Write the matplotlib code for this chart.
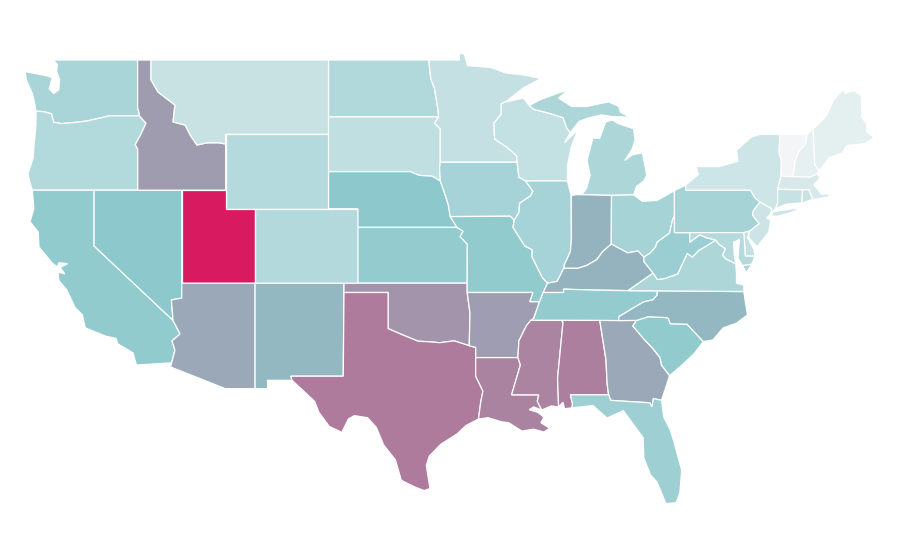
#!/usr/bin/env python3
"""Choropleth of the lower 48 states, drawn from hand-read outlines (lon, lat)."""

import matplotlib
matplotlib.use("Agg")
import matplotlib.pyplot as plt
from matplotlib.colors import LinearSegmentedColormap, Normalize

# ---------------------------------------------------------------------------
# Data
# ---------------------------------------------------------------------------

STATES = ["WA", "OR", "CA", "NV", "ID", "MT", "WY", "UT", "AZ", "CO", "NM", "ND",
          "SD", "NE", "KS", "OK", "TX", "MN", "IA", "MO", "AR", "LA", "WI", "IL",
          "MI", "IN", "OH", "KY", "TN", "MS", "AL", "GA", "FL", "SC", "NC", "VA",
          "WV", "PA", "NY", "VT", "NH", "ME", "MA", "CT", "RI", "NJ", "DE", "MD"]
VALUES = [21.6, 18.9, 28.3, 30.0, 48.0, 12.8, 18.0, 100.0, 43.0, 18.6, 36.5, 19.2,
          15.0, 30.0, 28.0, 51.0, 61.0, 13.7, 22.4, 28.3, 47.5, 58.0, 14.3, 22.4,
          20.7, 38.5, 23.0, 38.5, 28.0, 57.5, 59.5, 43.0, 25.3, 28.3, 36.5, 20.4,
          26.0, 22.7, 11.0, 0.3, 4.0, 4.4, 8.4, 12.5, 12.5, 11.6, 13.7, 18.0]

OUTLINES = {
    "WA": [[(-117.04, 49), (-122.76, 49), (-122.5, 48.75), (-122.55, 48.4), (-122.35, 47.95), (-122.4, 47.4),
            (-122.75, 47.2), (-123.05, 47.45), (-122.85, 48.05), (-123.2, 48.15), (-124.7, 48.38), (-124.6, 47.9),
            (-124.2, 47.2), (-124.05, 46.7), (-123.95, 46.25), (-123.4, 46.22), (-122.9, 46.1), (-122.75, 45.65),
            (-122.2, 45.58), (-121.2, 45.65), (-120.5, 45.72), (-119.3, 45.93), (-119.0, 46.0), (-116.92, 46.0),
            (-116.95, 46.2), (-117.04, 46.42)]],
    "OR": [[(-124.2, 42), (-124.4, 42.5), (-124.5, 42.9), (-124.15, 43.7), (-124.05, 44.7), (-123.95, 45.5),
            (-123.95, 46.25), (-123.4, 46.22), (-122.9, 46.1), (-122.75, 45.65), (-122.2, 45.58), (-121.2, 45.65),
            (-120.5, 45.72), (-119.3, 45.93), (-119.0, 46.0), (-116.92, 46.0), (-116.47, 45.6), (-116.85, 44.95),
            (-117.2, 44.45), (-117.03, 44.2), (-117.03, 42)]],
    "CA": [[(-124.2, 42), (-124.1, 41.0), (-124.36, 40.3), (-123.8, 39.75), (-123.75, 38.95), (-122.86, 38.09),
            (-122.5, 37.87), (-122.4, 38.1), (-121.8, 38.05), (-122.3, 37.85), (-122.0, 37.5), (-122.45, 37.6),
            (-122.4, 37.15), (-121.85, 36.63), (-121.3, 35.7), (-120.8, 35.3), (-120.6, 34.6), (-119.2, 34.15),
            (-118.5, 34.03), (-118.4, 33.75), (-117.35, 33.25), (-117.12, 32.6), (-114.72, 32.72), (-114.5, 33.4),
            (-114.7, 33.9), (-114.15, 34.27), (-114.63, 35.0), (-120, 39), (-120, 42)]],
    "NV": [[(-120, 42), (-114.04, 42), (-114.04, 36.2), (-114.74, 36.1), (-114.63, 35.0), (-120, 39)]],
    "ID": [[(-117.04, 49), (-116.13, 49), (-116.13, 47.93), (-115.65, 47.28), (-114.5, 46.58), (-114.63, 45.67),
            (-113.8, 45.5), (-113.45, 44.95), (-113.0, 44.43), (-112.3, 44.55), (-111.5, 44.55),
            (-111.05, 44.48), (-111.05, 42), (-117.03, 42), (-117.03, 44.2), (-117.2, 44.45), (-116.85, 44.95),
            (-116.47, 45.6), (-116.92, 46.0), (-116.95, 46.2), (-117.04, 46.42)]],
    "MT": [[(-116.13, 49), (-104.05, 49), (-104.05, 45), (-111.05, 45), (-111.05, 44.48), (-111.5, 44.55),
            (-112.3, 44.55), (-113.0, 44.43), (-113.45, 44.95), (-113.8, 45.5), (-114.63, 45.67), (-114.5, 46.58),
            (-115.65, 47.28), (-116.13, 47.93)]],
    "WY": [[(-111.05, 45), (-104.05, 45), (-104.05, 41), (-111.05, 41)]],
    "UT": [[(-114.04, 42), (-111.05, 42), (-111.05, 41), (-109.05, 41), (-109.05, 37), (-114.04, 37)]],
    "AZ": [[(-114.04, 37), (-109.05, 37), (-109.05, 31.33), (-111.07, 31.33), (-114.8, 32.5), (-114.72, 32.72),
            (-114.5, 33.4), (-114.7, 33.9), (-114.15, 34.27), (-114.63, 35.0), (-114.74, 36.1), (-114.04, 36.2)]],
    "CO": [[(-109.05, 41), (-102.05, 41), (-102.05, 37), (-109.05, 37)]],
    "NM": [[(-109.05, 37), (-103.0, 37), (-103.05, 32), (-106.62, 32), (-106.53, 31.78), (-108.2, 31.78),
            (-108.2, 31.33), (-109.05, 31.33)]],
    "ND": [[(-104.05, 49), (-97.23, 49), (-97.1, 48), (-96.85, 47.5), (-96.6, 46.3), (-96.56, 45.94),
            (-104.05, 45.94)]],
    "SD": [[(-104.05, 45.94), (-96.56, 45.94), (-96.85, 45.6), (-96.45, 45.3), (-96.45, 43.5), (-96.5, 43.2),
            (-96.45, 42.5), (-97.0, 42.75), (-97.9, 42.8), (-98.5, 43.0), (-104.05, 43)]],
    "NE": [[(-104.05, 43), (-98.5, 43), (-97.9, 42.8), (-97.0, 42.75), (-96.45, 42.5), (-96.1, 41.7), (-95.9, 41.2),
            (-95.77, 40.58), (-95.31, 40.0), (-102.05, 40), (-102.05, 41), (-104.05, 41)]],
    "KS": [[(-102.05, 40), (-95.31, 40), (-94.9, 39.8), (-95.1, 39.5), (-94.61, 39.1), (-94.62, 37), (-102.05, 37)]],
    "OK": [[(-103.0, 37), (-94.62, 37), (-94.62, 36.5), (-94.43, 35.4), (-94.48, 33.64), (-95.5, 33.9), (-96.5, 33.8),
            (-97.2, 33.85), (-97.95, 33.88), (-98.95, 34.2), (-100.0, 34.56), (-100.0, 36.5), (-103.0, 36.5)]],
    "TX": [[(-103.0, 36.5), (-100, 36.5), (-100, 34.56), (-98.95, 34.2), (-97.95, 33.88), (-97.2, 33.85), (-96.5, 33.8),
            (-95.5, 33.9), (-94.48, 33.64), (-94.04, 33.55), (-94.04, 33), (-94.04, 32), (-93.55, 31.2), (-93.7, 30.6),
            (-93.85, 29.7), (-94.7, 29.35), (-95.3, 28.9), (-96.4, 28.35), (-97.2, 27.7), (-97.4, 27.2), (-97.15, 25.96),
            (-97.55, 25.85), (-98.2, 26.05), (-99.1, 26.4), (-99.5, 27.5), (-100.3, 28.3), (-100.8, 29.25),
            (-101.4, 29.77), (-102.3, 29.88), (-102.7, 29.7), (-103.15, 28.98), (-104.0, 29.3), (-104.7, 30.05),
            (-105.0, 30.65), (-106.53, 31.78), (-106.62, 32), (-103.05, 32)]],
    "MN": [[(-97.23, 49), (-95.15, 49), (-95.15, 49.38), (-94.8, 49.3), (-94.6, 48.7), (-93.0, 48.6), (-92.0, 48.3),
            (-90.8, 48.2), (-89.6, 48.0), (-90.8, 47.5), (-92.0, 46.75), (-92.3, 46.65), (-92.3, 46.1), (-92.8, 45.6),
            (-92.75, 44.75), (-91.9, 44.3), (-91.25, 43.85), (-91.22, 43.5), (-96.45, 43.5), (-96.45, 45.3),
            (-96.85, 45.6), (-96.56, 45.94), (-96.6, 46.3), (-96.85, 47.5), (-97.1, 48)]],
    "IA": [[(-96.45, 43.5), (-91.22, 43.5), (-91.1, 42.7), (-90.65, 42.5), (-90.15, 41.95), (-90.3, 41.7), (-91.05, 41.3),
            (-91.1, 40.8), (-91.42, 40.38), (-91.7, 40.6), (-95.77, 40.58), (-95.9, 41.2), (-96.1, 41.7), (-96.45, 42.5),
            (-96.5, 43.2)]],
    "MO": [[(-95.77, 40.58), (-91.7, 40.6), (-91.42, 40.38), (-91.5, 40.0), (-90.7, 39.0), (-90.2, 38.8), (-90.2, 38.4),
            (-89.5, 37.3), (-89.15, 37.0), (-89.45, 36.5), (-89.7, 36.0), (-90.37, 36.0), (-90.15, 36.5), (-94.62, 36.5),
            (-94.62, 37), (-94.61, 39.1), (-95.1, 39.5), (-94.9, 39.8), (-95.31, 40.0)]],
    "AR": [[(-94.62, 36.5), (-90.15, 36.5), (-90.37, 36), (-89.7, 36), (-90.1, 35.1), (-90.6, 34.7), (-91.1, 33.9),
            (-91.17, 33), (-94.04, 33), (-94.04, 33.55), (-94.48, 33.64), (-94.43, 35.4)]],
    "LA": [[(-94.04, 33), (-91.17, 33), (-91.0, 32.6), (-91.6, 31.0), (-89.75, 31.0), (-89.85, 30.65), (-89.55, 30.18),
            (-90.1, 30.35), (-90.4, 30.2), (-89.8, 30.05), (-89.4, 29.8), (-89.6, 29.5), (-89.0, 29.2), (-89.4, 29.0),
            (-90.1, 29.15), (-90.9, 29.05), (-91.8, 29.5), (-92.3, 29.55), (-93.2, 29.77), (-93.85, 29.7), (-93.7, 30.6),
            (-93.55, 31.2), (-94.04, 32)]],
    "WI": [[(-92.3, 46.65), (-92.0, 46.75), (-90.8, 46.95), (-90.4, 46.55), (-90.1, 46.35), (-89.1, 46.15), (-88.1, 45.9),
            (-87.85, 45.35), (-87.6, 45.1), (-88.0, 44.55), (-87.1, 45.25), (-87.55, 44.3), (-87.8, 43.3), (-87.8, 42.5),
            (-90.65, 42.5), (-91.1, 42.7), (-91.22, 43.5), (-91.25, 43.85), (-91.9, 44.3), (-92.75, 44.75), (-92.8, 45.6),
            (-92.3, 46.1)]],
    "IL": [[(-90.65, 42.5), (-87.8, 42.5), (-87.55, 41.72), (-87.53, 39.35), (-87.6, 38.7), (-88.0, 38.0), (-88.05, 37.8),
            (-88.5, 37.1), (-89.15, 37), (-89.5, 37.3), (-90.2, 38.4), (-90.2, 38.8), (-90.7, 39), (-91.5, 40),
            (-91.42, 40.38), (-91.1, 40.8), (-91.05, 41.3), (-90.3, 41.7), (-90.15, 41.95)]],
    "MI": [[(-84.8, 41.72), (-86.82, 41.76), (-86.5, 42.1), (-86.25, 42.8), (-86.47, 43.6), (-86.07, 44.8), (-85.6, 44.8),
            (-85.2, 45.67), (-84.75, 45.78), (-84.4, 45.6), (-83.3, 45.3), (-83.2, 44.7), (-83.4, 44.2),
            (-83.9, 43.6), (-83.4, 43.9), (-82.7, 44.0), (-82.4, 42.8), (-82.6, 42.5), (-83.1, 42.2), (-83.3, 41.75)],
           [(-90.4, 46.55), (-89.7, 46.85), (-88.44, 47.22), (-87.76, 47.39), (-88.4, 46.95), (-87.5, 46.5), (-86.5, 46.5),
            (-85.0, 46.75), (-84.3, 46.5), (-84.2, 46.2), (-83.55, 45.93), (-84.7, 45.95), (-85.5, 46.05), (-86.5, 45.85),
            (-87.0, 45.7), (-87.6, 45.1), (-87.85, 45.35), (-88.1, 45.9), (-89.1, 46.15), (-90.1, 46.35)],
           [(-89.2, 47.85), (-88.5, 48.15), (-88.8, 47.95)]],
    "IN": [[(-87.53, 41.72), (-87.2, 41.76), (-86.82, 41.76), (-84.8, 41.72), (-84.82, 39.1), (-85.4, 38.7), (-85.8, 38.27),
            (-86.5, 37.95), (-87.1, 37.8), (-88.05, 37.8), (-88, 38), (-87.6, 38.7), (-87.53, 39.35)]],
    "OH": [[(-84.8, 41.72), (-83.3, 41.75), (-82.7, 41.4), (-81.7, 41.45), (-80.52, 41.98), (-80.52, 40.64), (-80.65, 40.4),
            (-80.85, 39.7), (-81.7, 39.2), (-81.8, 38.95), (-82.2, 38.6), (-82.6, 38.4), (-83, 38.73), (-83.7, 38.63),
            (-84.82, 39.1)]],
    "KY": [[(-89.45, 36.5), (-88.05, 36.5), (-88.07, 36.68), (-86, 36.63), (-83.68, 36.6), (-81.97, 37.54), (-82.6, 38.17),
            (-82.6, 38.4), (-83.0, 38.73), (-83.7, 38.63), (-84.82, 39.1), (-85.4, 38.7), (-85.8, 38.27), (-86.5, 37.95),
            (-87.1, 37.8), (-88.05, 37.8), (-88.5, 37.1), (-89.15, 37.0)]],
    "TN": [[(-89.7, 36), (-89.45, 36.5), (-88.05, 36.5), (-88.07, 36.68), (-86, 36.63), (-83.68, 36.6), (-81.68, 36.59),
            (-81.7, 36.35), (-82.0, 36.1), (-82.6, 36.0), (-83.1, 35.77), (-84.3, 35.2), (-84.32, 34.99), (-88.2, 35),
            (-90.3, 35), (-90.1, 35.1)]],
    "MS": [[(-91.17, 33), (-91.1, 33.9), (-90.6, 34.7), (-90.3, 35.0), (-88.2, 35.0), (-88.1, 34.9), (-88.47, 31.9),
            (-88.4, 30.35), (-88.9, 30.4), (-89.55, 30.18), (-89.85, 30.65), (-89.75, 31), (-91.6, 31), (-91.0, 32.6)]],
    "AL": [[(-88.2, 35), (-85.6, 35), (-85.18, 32.9), (-85.1, 31.6), (-85.0, 31), (-87.6, 31), (-87.45, 30.5), (-87.5, 30.3),
            (-88.0, 30.25), (-88.1, 30.6), (-88.4, 30.35), (-88.47, 31.9), (-88.1, 34.9)]],
    "GA": [[(-85.6, 35), (-84.32, 34.99), (-83.1, 35), (-83.35, 34.7), (-82.6, 34), (-82, 33.5), (-81.5, 33), (-81.4, 32.6),
            (-80.85, 32.03), (-81.4, 30.7), (-81.95, 30.8), (-82.05, 30.36), (-82.2, 30.57), (-84.85, 30.7), (-85.0, 31),
            (-85.1, 31.6), (-85.18, 32.9)]],
    "FL": [[(-87.6, 31), (-85.0, 31), (-84.85, 30.7), (-82.2, 30.57), (-82.05, 30.36), (-81.95, 30.8), (-81.4, 30.7),
            (-81.25, 29.8), (-80.8, 29.1), (-80.55, 28.45), (-80.03, 26.95), (-80.15, 25.75), (-80.4, 25.2), (-81.1, 25.15),
            (-81.7, 26.3), (-82.15, 26.7), (-82.6, 27.6), (-82.65, 28.7), (-83.4, 29.5), (-84.0, 30.15), (-85.1, 29.75),
            (-86.06, 30.42), (-87.5, 30.3), (-87.45, 30.5)]],
    "SC": [[(-83.1, 35), (-82.3, 35.2), (-81.04, 35.15), (-80.93, 35.1), (-80.8, 34.82), (-79.67, 34.8), (-78.55, 33.86),
            (-79.2, 33.2), (-80.0, 32.6), (-80.85, 32.03), (-81.4, 32.6), (-81.5, 33), (-82, 33.5), (-82.6, 34),
            (-83.35, 34.7)]],
    "NC": [[(-84.32, 34.99), (-84.3, 35.2), (-83.1, 35.77), (-82.6, 36), (-82, 36.1), (-81.7, 36.35), (-81.68, 36.59),
            (-75.8, 36.55), (-75.7, 36.0), (-75.55, 35.3), (-76.3, 34.85), (-77.2, 34.6), (-77.9, 33.95), (-78.55, 33.86),
            (-79.67, 34.8), (-80.8, 34.82), (-80.93, 35.1), (-81.04, 35.15), (-82.3, 35.2), (-83.1, 35)]],
    "VA": [[(-77.72, 39.32), (-77.5, 39.1), (-77.05, 38.85), (-77.25, 38.5), (-77.0, 38.3), (-76.35, 38.05), (-76.3, 37.5),
            (-76.3, 37.0), (-75.8, 36.9), (-75.8, 36.55), (-81.68, 36.59), (-83.68, 36.6), (-81.97, 37.54), (-81.68, 37.2),
            (-81.2, 37.25), (-80.3, 37.5), (-79.65, 38.6), (-79.3, 38.4), (-78.87, 38.76), (-78.35, 39.0)],
           [(-75.95, 37.15), (-75.25, 38.03), (-75.9, 37.95), (-75.65, 37.6)]],
    "WV": [[(-80.52, 40.64), (-80.52, 39.72), (-79.48, 39.72), (-79.48, 39.2), (-78.8, 39.6), (-78.35, 39.45), (-77.72, 39.32),
            (-78.35, 39.0), (-78.87, 38.76), (-79.3, 38.4), (-79.65, 38.6), (-80.3, 37.5), (-81.2, 37.25), (-81.68, 37.2),
            (-81.97, 37.54), (-82.6, 38.17), (-82.6, 38.4), (-82.2, 38.6), (-81.8, 38.95), (-81.7, 39.2), (-80.85, 39.7),
            (-80.65, 40.4)]],
    "PA": [[(-80.52, 41.98), (-80.08, 42.15), (-79.76, 42.27), (-79.76, 42.0), (-75.35, 42.0), (-75.05, 41.6), (-74.7, 41.36),
            (-75.15, 40.9), (-75.2, 40.65), (-74.75, 40.2), (-75.4, 39.8), (-75.8, 39.72), (-80.52, 39.72)]],
    "NY": [[(-79.76, 42.27), (-78.9, 42.85), (-79.05, 43.27), (-77.5, 43.27), (-76.2, 43.55), (-76.3, 44.15), (-75.3, 44.85),
            (-74.7, 45.0), (-73.35, 45.0), (-73.4, 44.0), (-73.25, 43.6), (-73.27, 42.75), (-73.5, 42.05), (-73.5, 41.3),
            (-73.65, 41.0), (-74.0, 40.7), (-73.9, 41), (-74.7, 41.36), (-75.05, 41.6), (-75.35, 42), (-79.76, 42)],
           [(-74.0, 40.6), (-73.75, 40.85), (-72.5, 41.0), (-71.9, 41.07), (-72.5, 40.82), (-73.5, 40.6)]],
    "VT": [[(-73.35, 45), (-71.5, 45.01), (-71.6, 44.5), (-72.05, 44.1), (-72.3, 43.6), (-72.45, 42.73), (-73.27, 42.75),
            (-73.25, 43.6), (-73.4, 44)]],
    "NH": [[(-71.5, 45.01), (-71.08, 45.3), (-70.98, 43.4), (-70.7, 43.07), (-70.82, 42.87), (-71.3, 42.7), (-72.45, 42.73),
            (-72.3, 43.6), (-72.05, 44.1), (-71.6, 44.5)]],
    "ME": [[(-71.08, 45.3), (-70.4, 45.8), (-70.08, 46.15), (-69.7, 46.85), (-69.1, 47.39), (-68.9, 47.2), (-68.3, 47.35),
            (-67.8, 47.07), (-67.78, 45.9), (-67.45, 45.6), (-67.45, 45.15), (-66.95, 44.82), (-67.6, 44.5), (-68.8, 44.4),
            (-69.1, 44.0), (-70.0, 43.75), (-70.6, 43.1), (-70.7, 43.07), (-70.98, 43.4)]],
    "MA": [[(-73.5, 42.05), (-73.27, 42.75), (-72.45, 42.73), (-71.3, 42.7), (-70.82, 42.87), (-70.6, 42.65), (-71.05, 42.3),
            (-70.65, 41.95), (-70.55, 41.8), (-70.0, 41.8), (-70.0, 41.65), (-70.65, 41.55), (-71.12, 41.5), (-71.38, 42.02),
            (-71.8, 42.02)]],
    "CT": [[(-73.5, 42.05), (-71.8, 42.02), (-71.85, 41.32), (-72.9, 41.25), (-73.65, 41.0), (-73.5, 41.3)]],
    "RI": [[(-71.8, 42.02), (-71.38, 42.02), (-71.12, 41.5), (-71.85, 41.32)]],
    "NJ": [[(-74.7, 41.36), (-73.9, 41), (-74.0, 40.7), (-74.25, 40.5), (-73.97, 40.4), (-74.1, 39.75), (-74.9, 38.95),
            (-75.5, 39.5), (-75.4, 39.8), (-74.75, 40.2), (-75.2, 40.65), (-75.15, 40.9)]],
    "DE": [[(-75.8, 39.72), (-75.4, 39.8), (-75.55, 39.45), (-75.1, 38.8), (-75.05, 38.45), (-75.7, 38.46)]],
    "MD": [[(-79.48, 39.72), (-75.8, 39.72), (-75.7, 38.46), (-75.05, 38.45), (-75.25, 38.03), (-75.9, 37.95), (-76.2, 38.35),
            (-76.1, 39.35), (-76.5, 39.2), (-76.45, 38.5), (-76.35, 38.05), (-77.0, 38.3), (-77.25, 38.5), (-77.05, 38.85),
            (-77.5, 39.1), (-77.72, 39.32), (-78.35, 39.45), (-78.8, 39.6), (-79.48, 39.2)]],
}

# ---------------------------------------------------------------------------
# Scale
# ---------------------------------------------------------------------------

cmap = LinearSegmentedColormap.from_list(
    "teal_crimson", [(0.0, "#f3f5f6"), (0.3, "#8cc8cc"), (1.0, "#d81b60")])
norm = Normalize(0, 100)

# ---------------------------------------------------------------------------
# Plot
# ---------------------------------------------------------------------------

fig = plt.figure(figsize=(9, 5.6), dpi=100)
ax = fig.add_axes([0, 0, 1, 1])

for state, value in zip(STATES, VALUES):
    for ring in OUTLINES[state]:
        lons, lats = zip(*ring)
        ax.fill(lons, lats, facecolor=cmap(norm(value)), edgecolor="white", linewidth=0.9)

# plain lon/lat projection: 14.7 px per degree across, 18.6 px per degree up
ax.set_xlim(-124.7 - 25 / 14.7, -124.7 + 875 / 14.7)
ax.set_ylim(49 - 500 / 18.6, 49 + 60 / 18.6)
ax.axis("off")

fig.savefig("out.png", dpi=100)
